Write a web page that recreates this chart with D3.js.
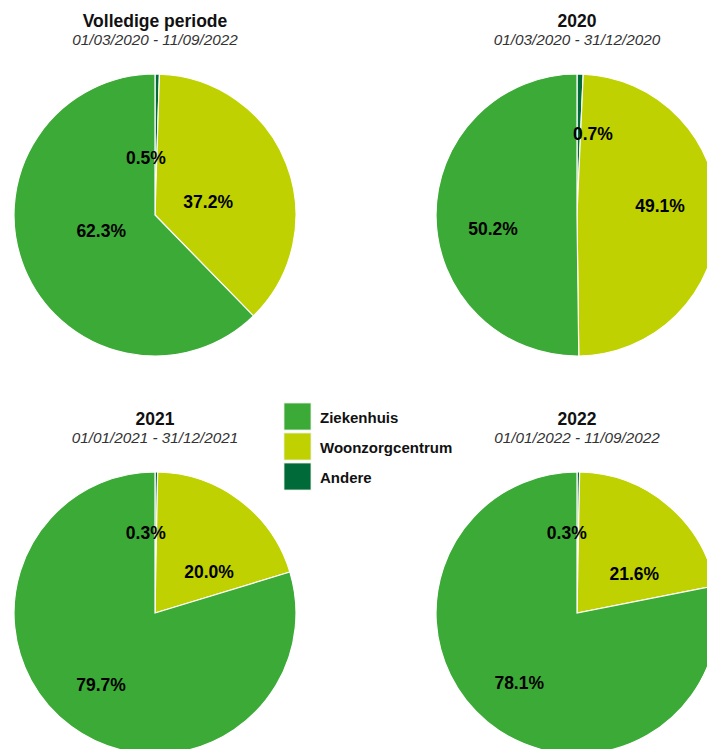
<!DOCTYPE html>
<meta charset="utf-8">
<style>
body { margin: 0; background: white; overflow: hidden; }
svg { display: block; font-family: 'Liberation Sans', Arial, sans-serif; }
text.title { font-size: 17.5px; font-weight: bold; fill: #111; }
text.subtitle { font-size: 15.3px; font-style: italic; fill: #333; }
text.pct { font-size: 17.5px; font-weight: bold; fill: #000; }
.legend text { font-size: 15px; font-weight: bold; fill: #111; }
</style>
<body>
<script src="https://d3js.org/d3.v7.min.js"></script>
<script>

// data (percent of deaths by place)
const categories = ["Andere", "Woonzorgcentrum", "Ziekenhuis"];   // drawing order, clockwise from 12 o'clock
const legendOrder = ["Ziekenhuis", "Woonzorgcentrum", "Andere"];
const periods = ["Volledige periode", "2020", "2021", "2022"];
const ranges = ["01/03/2020 - 11/09/2022", "01/03/2020 - 31/12/2020",
                "01/01/2021 - 31/12/2021", "01/01/2022 - 11/09/2022"];
const andere     = [0.5, 0.7, 0.3, 0.3];
const woonzorg   = [37.2, 49.1, 20.0, 21.6];
const ziekenhuis = [62.3, 50.2, 79.7, 78.1];

// layout
const width = 707, height = 749;
const radius = 141;
const colX = [155, 577], rowY = [215, 613];
// label radius and small nudges per pie, same order as categories
const labelR = [[57, 57, 57], [84, 84, 84], [80, 68, 89], [80, 69, 91]];
const labelNudge = [
  [[-10, 0], [0, 8], [-1, -5]],
  [[14, 3], [-1, -10], [0, 13]],
  [[-10, 0], [13, 13], [-1, 0]],
  [[-11, 0], [13, 14], [0, 0]]
];

const color = d3.scaleOrdinal()
  .domain(["Ziekenhuis", "Woonzorgcentrum", "Andere"])
  .range(["#3caa37", "#bfd100", "#006b38"]);

const fmt = d3.format(".1f");

const svg = d3.select("body")
  .append("svg")
    .attr("width", width)
    .attr("height", height);

const pie = d3.pie()
  .sort(null)
  .value(function(d) { return d.value; });

const arc = d3.arc()
  .innerRadius(0)
  .outerRadius(radius);

periods.forEach(function(p, i) {
  const data = [
    {name: categories[0], value: andere[i]},
    {name: categories[1], value: woonzorg[i]},
    {name: categories[2], value: ziekenhuis[i]}
  ];
  const cx = colX[i % 2], cy = rowY[Math.floor(i / 2)];

  const g = svg.append("g")
    .attr("transform", "translate(" + cx + "," + cy + ")");

  const arcs = pie(data);

  g.selectAll("path")
    .data(arcs)
    .enter().append("path")
      .attr("d", arc)
      .attr("fill", function(d) { return color(d.data.name); })
      .attr("stroke", "white")
      .attr("stroke-width", 1.2);

  g.selectAll("text.pct")
    .data(arcs)
    .enter().append("text")
      .attr("class", "pct")
      .attr("text-anchor", "middle")
      .attr("dominant-baseline", "central")
      .attr("transform", function(d, j) {
        const r = labelR[i][j];
        const c = d3.arc().innerRadius(r).outerRadius(r).centroid(d);
        return "translate(" + (c[0] + labelNudge[i][j][0]) + "," + (c[1] + labelNudge[i][j][1]) + ")";
      })
      .text(function(d) { return fmt(d.data.value) + "%"; });

  g.append("text")
    .attr("class", "title")
    .attr("text-anchor", "middle")
    .attr("y", -188)
    .text(p);

  g.append("text")
    .attr("class", "subtitle")
    .attr("text-anchor", "middle")
    .attr("y", -170)
    .text(ranges[i]);
});

// legend
const legend = svg.append("g")
  .attr("class", "legend")
  .attr("transform", "translate(284,403)");

const item = legend.selectAll("g")
  .data(legendOrder)
  .enter().append("g")
    .attr("transform", function(d, i) { return "translate(0," + (i * 30) + ")"; });

item.append("rect")
  .attr("width", 27)
  .attr("height", 27)
  .attr("fill", function(d) { return color(d); })
  .attr("stroke", "#e8f0e0")
  .attr("stroke-width", 0.8);

item.append("text")
  .attr("x", 36)
  .attr("y", 14)
  .attr("dominant-baseline", "central")
  .text(function(d) { return d; });

</script>
</body>
